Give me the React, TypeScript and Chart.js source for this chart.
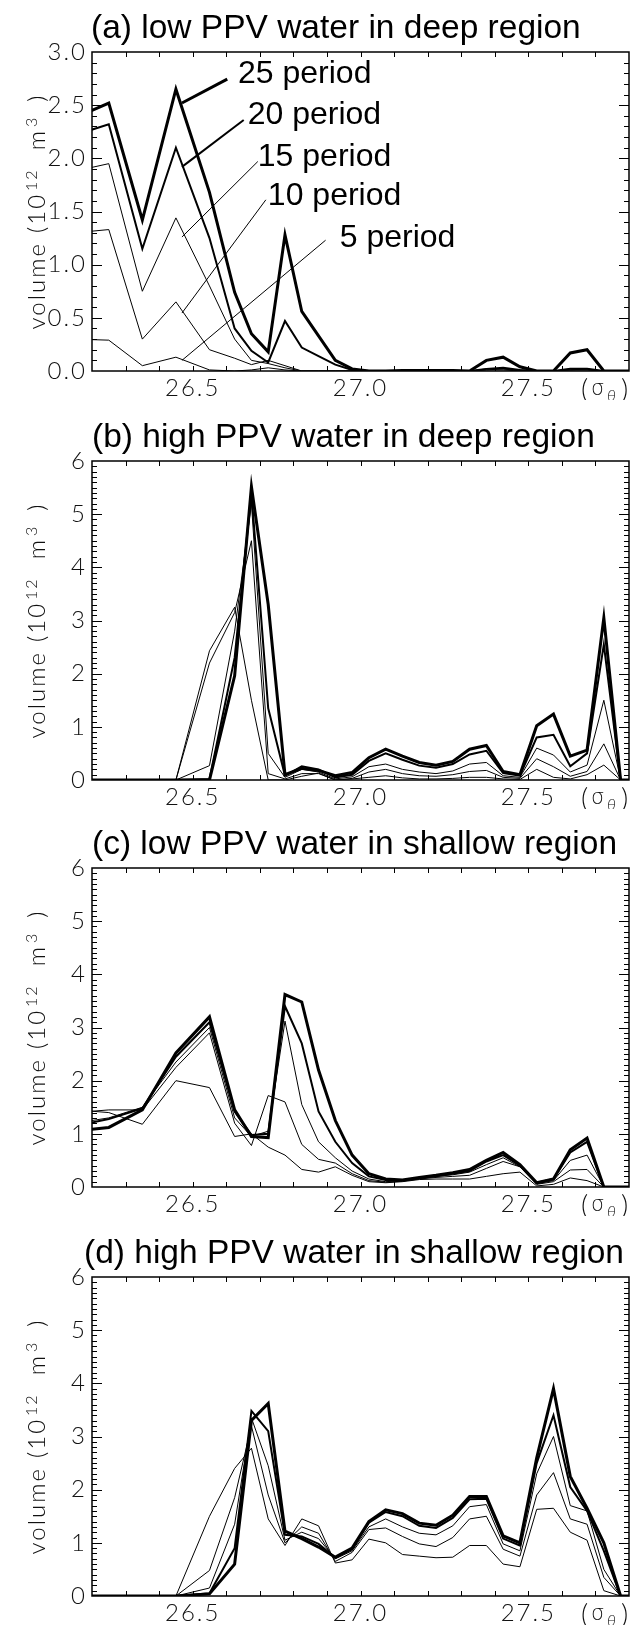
import React, { useEffect, useRef } from "react";
import { Chart, registerables } from "chart.js";

Chart.register(...registerables);

// ---------- data ----------
const SIGMA = [26.15, 26.25, 26.35, 26.45, 26.55, 26.625, 26.675, 26.725, 26.775, 26.825, 26.875, 26.925, 26.975, 27.025, 27.075, 27.125, 27.175, 27.225, 27.275, 27.325, 27.375, 27.425, 27.475, 27.525, 27.575, 27.625, 27.675, 27.725, 27.775, 27.825];

const PERIODS = ["5 period", "10 period", "15 period", "20 period", "25 period"];
const LINE_WIDTHS = [1, 1, 1, 2, 3];

const X_LABELS = [26.5, 27.0, 27.5];
const X_TICK_MARKS = [26.3, 26.4, 26.5, 26.6, 26.7, 26.8, 26.9, 27.0, 27.1, 27.2, 27.3, 27.4, 27.5, 27.6, 27.7];
const Y_LABELS_A = [0, 0.5, 1.0, 1.5, 2.0, 2.5, 3.0];
const Y_LABELS_BCD = [0, 1, 2, 3, 4, 5, 6];

// (a) low PPV water in deep region
const A_P5 = [0.3, 0.29, 0.05, 0.13, 0.01, 0, 0.01, 0.03, 0.01, 0, 0, 0, 0, 0, 0, 0, 0, 0, 0, 0, 0.01, 0.01, 0, 0, 0, 0.01, 0.01, 0, 0, 0];
const A_P10 = [1.3, 1.33, 0.3, 0.65, 0.2, 0.12, 0.06, 0.1, 0.05, 0, 0, 0, 0, 0, 0, 0, 0, 0, 0, 0, 0.01, 0.02, 0, 0, 0, 0.01, 0.01, 0, 0, 0];
const A_P15 = [1.88, 1.95, 0.75, 1.44, 0.8, 0.3, 0.1, 0.07, 0.03, 0, 0, 0, 0, 0, 0, 0, 0, 0, 0, 0, 0.02, 0.02, 0.01, 0, 0, 0.01, 0.02, 0, 0, 0];
const A_P20 = [2.22, 2.32, 1.15, 2.1, 1.25, 0.4, 0.19, 0.08, 0.47, 0.22, 0.14, 0.06, 0.01, 0, 0, 0, 0, 0, 0, 0, 0.02, 0.03, 0.01, 0, 0, 0.02, 0.02, 0, 0, 0];
const A_P25 = [2.38, 2.52, 1.42, 2.65, 1.68, 0.74, 0.35, 0.18, 1.28, 0.56, 0.33, 0.1, 0.02, 0, 0, 0.005, 0.005, 0.005, 0.005, 0, 0.1, 0.13, 0.04, 0, 0, 0.17, 0.2, 0, 0, 0];

// (b) high PPV water in deep region
const B_P5 = [0, 0, 0, 0, 2.43, 3.25, 1.5, 0, 0, 0.07, 0.13, 0, 0.02, 0.05, 0.08, 0.04, 0.02, 0.02, 0.03, 0.05, 0.05, 0.02, 0.01, 0.2, 0.05, 0.02, 0.1, 0.28, 0, 0];
const B_P10 = [0, 0, 0, 0, 2.2, 3.15, 4.5, 0.12, 0.02, 0.12, 0.12, 0, 0.03, 0.15, 0.2, 0.12, 0.08, 0.07, 0.1, 0.16, 0.18, 0.05, 0.03, 0.4, 0.25, 0.07, 0.16, 0.68, 0, 0];
const B_P15 = [0, 0, 0, 0, 0.27, 2.8, 5.2, 0.5, 0.05, 0.2, 0.15, 0.02, 0.06, 0.25, 0.3, 0.2, 0.15, 0.12, 0.17, 0.3, 0.33, 0.08, 0.05, 0.6, 0.47, 0.15, 0.28, 1.5, 0, 0];
const B_P20 = [0, 0, 0, 0, 0.02, 2.3, 5.4, 1.35, 0.08, 0.26, 0.2, 0.05, 0.1, 0.36, 0.5, 0.38, 0.27, 0.23, 0.3, 0.48, 0.55, 0.13, 0.08, 0.8, 0.85, 0.26, 0.5, 2.55, 0, 0];
const B_P25 = [0, 0, 0, 0, 0, 1.96, 5.52, 3.3, 0.1, 0.22, 0.18, 0.08, 0.14, 0.42, 0.58, 0.45, 0.33, 0.28, 0.35, 0.58, 0.65, 0.16, 0.1, 1.02, 1.24, 0.45, 0.56, 3.05, 0, 0];

// (c) low PPV water in shallow region
const C_P5 = [1.45, 1.4, 1.18, 2.0, 1.87, 0.95, 1.0, 0.75, 0.6, 0.33, 0.28, 0.38, 0.22, 0.1, 0.08, 0.1, 0.14, 0.15, 0.15, 0.15, 0.2, 0.25, 0.28, 0.02, 0.05, 0.17, 0.12, 0, 0, 0];
const C_P10 = [1.4, 1.45, 1.45, 2.25, 2.9, 1.2, 0.78, 1.72, 1.6, 0.8, 0.52, 0.45, 0.25, 0.12, 0.09, 0.11, 0.15, 0.18, 0.2, 0.22, 0.35, 0.48, 0.38, 0.05, 0.1, 0.32, 0.33, 0, 0, 0];
const C_P15 = [1.2, 1.3, 1.5, 2.35, 3.0, 1.3, 0.95, 1.05, 3.12, 1.55, 0.85, 0.55, 0.3, 0.15, 0.1, 0.12, 0.16, 0.2, 0.23, 0.28, 0.42, 0.55, 0.38, 0.06, 0.12, 0.5, 0.6, 0, 0, 0];
const C_P20 = [1.15, 1.28, 1.48, 2.45, 3.1, 1.42, 0.98, 1.0, 3.4, 2.7, 1.42, 0.85, 0.45, 0.2, 0.13, 0.12, 0.17, 0.2, 0.25, 0.3, 0.48, 0.6, 0.4, 0.08, 0.15, 0.65, 0.85, 0, 0, 0];
const C_P25 = [1.05, 1.12, 1.45, 2.52, 3.2, 1.45, 0.95, 0.93, 3.62, 3.48, 2.2, 1.25, 0.6, 0.25, 0.15, 0.13, 0.18, 0.22, 0.27, 0.33, 0.5, 0.65, 0.42, 0.08, 0.15, 0.7, 0.92, 0, 0, 0];

// (d) high PPV water in shallow region
const D_P5 = [0, 0, 0, 0, 1.5, 2.4, 2.78, 1.45, 0.95, 1.45, 1.32, 0.62, 0.68, 1.07, 1.0, 0.78, 0.75, 0.72, 0.73, 0.95, 0.95, 0.6, 0.55, 1.63, 1.65, 1.2, 1.05, 0.1, 0, 0];
const D_P10 = [0, 0, 0, 0, 0.48, 1.85, 3.2, 1.9, 1.0, 1.3, 1.18, 0.65, 0.82, 1.25, 1.28, 1.12, 0.98, 0.93, 1.1, 1.45, 1.5, 0.88, 0.75, 1.9, 2.32, 1.45, 1.35, 0.35, 0, 0];
const D_P15 = [0, 0, 0, 0, 0.15, 1.35, 3.35, 2.45, 1.05, 1.2, 1.08, 0.7, 0.85, 1.3, 1.45, 1.3, 1.18, 1.15, 1.32, 1.68, 1.72, 0.98, 0.85, 2.3, 3.0, 1.7, 1.6, 0.5, 0, 0];
const D_P20 = [0, 0, 0, 0, 0.05, 0.9, 3.48, 3.1, 1.15, 1.12, 0.98, 0.72, 0.88, 1.38, 1.58, 1.5, 1.32, 1.28, 1.47, 1.82, 1.83, 1.08, 0.95, 2.5, 3.4, 2.05, 1.6, 0.85, 0, 0];
const D_P25 = [0, 0, 0, 0, 0.04, 0.6, 3.3, 3.62, 1.22, 1.08, 0.92, 0.73, 0.9, 1.4, 1.62, 1.55, 1.37, 1.33, 1.52, 1.87, 1.87, 1.13, 1.0, 2.6, 3.9, 2.25, 1.65, 1.0, 0, 0];

// legend of panel (a): label anchor (data coords) and leader line ends
const LEGEND_TEXT_X = [26.938, 26.724, 26.694, 26.664, 26.635];
const LEGEND_TEXT_Y = [1.25, 1.64, 2.01, 2.41, 2.79];
const LEADER_X0 = [26.896, 26.718, 26.694, 26.652, 26.603];
const LEADER_Y0 = [1.23, 1.61, 1.97, 2.36, 2.745];
const LEADER_X1 = [26.468, 26.468, 26.468, 26.468, 26.468];
const LEADER_Y1 = [0.1, 0.545, 1.26, 1.92, 2.52];

// ---------- styling ----------
const THIN_FONT = "Lato, 'DejaVu Sans', sans-serif";
const THIN_WEIGHT = "300";
const TITLE_FONT = "'Liberation Sans', Arial, Helvetica, sans-serif";
const GREEK_FONT = "'DejaVu Sans', sans-serif";
const TEXT_COLOR = "#111";

type PanelCfg = {
  title: string;
  series: number[][];
  yMax: number;
  yLabels: number[];
  yMinor: number;
  yMajor: number;
  decimals: number;
  legend: boolean;
  canvasTop: number;
  titleX: number;
};

const PANELS: PanelCfg[] = [
  { title: "(a) low PPV water in deep region", series: [A_P5, A_P10, A_P15, A_P20, A_P25], yMax: 3, yLabels: Y_LABELS_A, yMinor: 0.1, yMajor: 0.5, decimals: 1, legend: true, canvasTop: 0, titleX: 91 },
  { title: "(b) high PPV water in deep region", series: [B_P5, B_P10, B_P15, B_P20, B_P25], yMax: 6, yLabels: Y_LABELS_BCD, yMinor: 0.1, yMajor: 1, decimals: 0, legend: false, canvasTop: 409, titleX: 92 },
  { title: "(c) low PPV water in shallow region", series: [C_P5, C_P10, C_P15, C_P20, C_P25], yMax: 6, yLabels: Y_LABELS_BCD, yMinor: 0.1, yMajor: 1, decimals: 0, legend: false, canvasTop: 816, titleX: 92 },
  { title: "(d) high PPV water in shallow region", series: [D_P5, D_P10, D_P15, D_P20, D_P25], yMax: 6, yLabels: Y_LABELS_BCD, yMinor: 0.1, yMajor: 1, decimals: 0, legend: false, canvasTop: 1225, titleX: 84 },
];

function makeDecorPlugin(cfg: PanelCfg) {
  return {
    id: "idlDecor",
    beforeDraw(chart: any) {
      chart.ctx.letterSpacing = "2px";
    },
    beforeDatasetsDraw(chart: any) {
      chart.ctx.letterSpacing = "0px";
    },
    afterDraw(chart: any) {
      const ctx: CanvasRenderingContext2D = chart.ctx;
      const { left, right, top, bottom } = chart.chartArea;
      const xs = chart.scales.x;
      const ys = chart.scales.y;
      ctx.save();
      (ctx as any).letterSpacing = "0px";
      // frame
      ctx.strokeStyle = "#000";
      ctx.lineWidth = 1.5;
      ctx.strokeRect(left, top, right - left, bottom - top);
      // x tick marks (bottom and top, inward)
      ctx.lineWidth = 1;
      ctx.beginPath();
      for (const v of X_TICK_MARKS) {
        const px = Math.round(xs.getPixelForValue(v)) + 0.5;
        ctx.moveTo(px, bottom);
        ctx.lineTo(px, bottom - 5);
        ctx.moveTo(px, top);
        ctx.lineTo(px, top + 5);
      }
      // y tick marks (left and right, inward)
      const n = Math.round(cfg.yMax / cfg.yMinor);
      const perMajor = Math.round(cfg.yMajor / cfg.yMinor);
      for (let i = 1; i < n; i++) {
        const v = i * cfg.yMinor;
        const py = Math.round(ys.getPixelForValue(v)) + 0.5;
        const len = i % perMajor === 0 ? 10 : 5;
        ctx.moveTo(left, py);
        ctx.lineTo(left + len, py);
        ctx.moveTo(right, py);
        ctx.lineTo(right - len, py);
      }
      ctx.stroke();

      // title
      ctx.fillStyle = "#000";
      ctx.font = `33.5px ${TITLE_FONT}`;
      ctx.textAlign = "left";
      ctx.textBaseline = "alphabetic";
      ctx.fillText(cfg.title, cfg.titleX, top - 14);

      // y-axis title: volume (10^12 m^3)
      ctx.save();
      ctx.translate(45, (top + bottom) / 2);
      ctx.rotate(-Math.PI / 2);
      (ctx as any).letterSpacing = "2px";
      ctx.fillStyle = TEXT_COLOR;
      ctx.textBaseline = "alphabetic";
      const parts = [
        { t: "volume", size: 24, rise: 0, gap: 0 },
        { t: "(10", size: 24, rise: 0, gap: 9 },
        { t: "12", size: 16, rise: 8, gap: 2 },
        { t: "m", size: 24, rise: 0, gap: 18 },
        { t: "3", size: 16, rise: 8, gap: 2 },
        { t: ")", size: 24, rise: 0, gap: 14 },
      ];
      const widths = parts.map((p) => {
        ctx.font = `${THIN_WEIGHT} ${p.size}px ${THIN_FONT}`;
        return ctx.measureText(p.t).width + p.gap;
      });
      const total = widths.reduce((a, b) => a + b, 0);
      let u = -total / 2;
      parts.forEach((p, i) => {
        ctx.font = `${THIN_WEIGHT} ${p.size}px ${THIN_FONT}`;
        ctx.fillText(p.t, u + p.gap, -p.rise);
        u += widths[i];
      });
      ctx.restore();

      // x-axis unit label (σθ)
      const ly = bottom + 19;
      ctx.fillStyle = TEXT_COLOR;
      ctx.textBaseline = "middle";
      ctx.textAlign = "left";
      ctx.font = `${THIN_WEIGHT} 28px ${THIN_FONT}`;
      ctx.fillText("(", right - 48, ly);
      ctx.fillText(")", right - 8, ly);
      ctx.font = `200 21px ${GREEK_FONT}`;
      ctx.fillText("σ", right - 38, ly);
      ctx.font = `italic ${THIN_WEIGHT} 16px ${THIN_FONT}`;
      ctx.fillText("θ", right - 22, ly + 6);

      // legend labels (panel a)
      if (cfg.legend) {
        ctx.strokeStyle = "#000";
        for (let i = 0; i < PERIODS.length; i++) {
          ctx.lineWidth = LINE_WIDTHS[i];
          ctx.beginPath();
          ctx.moveTo(xs.getPixelForValue(LEADER_X0[i]), ys.getPixelForValue(LEADER_Y0[i]));
          ctx.lineTo(xs.getPixelForValue(LEADER_X1[i]), ys.getPixelForValue(LEADER_Y1[i]));
          ctx.stroke();
          ctx.fillStyle = "#000";
          ctx.font = `32px ${TITLE_FONT}`;
          ctx.textBaseline = "middle";
          ctx.fillText(PERIODS[i], xs.getPixelForValue(LEGEND_TEXT_X[i]), ys.getPixelForValue(LEGEND_TEXT_Y[i]));
        }
      }
      ctx.restore();
    },
  };
}

function Panel({ cfg }: { cfg: PanelCfg }) {
  const ref = useRef<HTMLCanvasElement>(null);
  useEffect(() => {
    const canvas = ref.current!;
    const datasets = cfg.series.map((vals, i) => ({
      label: PERIODS[i],
      data: SIGMA.map((x, j) => ({ x, y: vals[j] })),
      borderColor: "#000",
      backgroundColor: "#000",
      borderWidth: LINE_WIDTHS[i],
      pointRadius: 0,
      tension: 0,
      fill: false,
      borderJoinStyle: "miter" as const,
    }));
    const tickFont = { family: THIN_FONT, size: 24, weight: THIN_WEIGHT };
    const chart = new Chart(canvas, {
      type: "line",
      data: { datasets },
      options: {
        responsive: false,
        maintainAspectRatio: false,
        animation: false,
        devicePixelRatio: 1,
        events: [],
        layout: { padding: { top: 52, right: 11, left: 0, bottom: 0 } },
        plugins: { legend: { display: false }, title: { display: false }, tooltip: { enabled: false } },
        scales: {
          x: {
            type: "linear",
            min: 26.2,
            max: 27.8,
            grid: { display: false, drawTicks: false },
            border: { display: false },
            afterBuildTicks: (s: any) => {
              s.ticks = X_LABELS.map((v) => ({ value: v }));
            },
            afterFit: (s: any) => {
              s.height = 29;
            },
            ticks: {
              padding: 3,
              color: TEXT_COLOR,
              font: tickFont,
              maxRotation: 0,
              autoSkip: false,
              callback: (v: any) => Number(v).toFixed(1),
            },
          },
          y: {
            type: "linear",
            min: 0,
            max: cfg.yMax,
            grid: { display: false, drawTicks: false },
            border: { display: false },
            afterBuildTicks: (s: any) => {
              s.ticks = cfg.yLabels.map((v) => ({ value: v }));
            },
            afterFit: (s: any) => {
              s.width = 92;
            },
            ticks: {
              padding: 5,
              color: TEXT_COLOR,
              font: tickFont,
              autoSkip: false,
              callback: (v: any) => (cfg.decimals ? Number(v).toFixed(cfg.decimals) : String(Math.round(Number(v)))),
            },
          },
        },
      } as any,
      plugins: [makeDecorPlugin(cfg)],
    });
    return () => chart.destroy();
  }, [cfg]);
  return (
    <canvas
      ref={ref}
      width={640}
      height={400}
      style={{ position: "absolute", left: 0, top: cfg.canvasTop, width: 640, height: 400 }}
    />
  );
}

export default function App() {
  return (
    <div style={{ position: "absolute", left: 0, top: 0, width: 640, height: 1626, background: "#fff", overflow: "hidden" }}>
      {PANELS.map((p) => (
        <Panel key={p.title} cfg={p} />
      ))}
    </div>
  );
}
